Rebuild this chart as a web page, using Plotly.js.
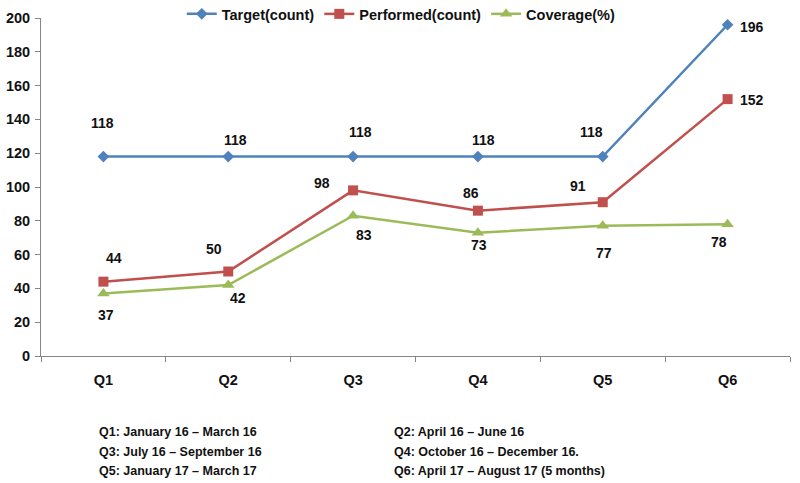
<!DOCTYPE html>
<html><head><meta charset="utf-8">
<script src="https://cdn.plot.ly/plotly-3.0.1.min.js"></script>
<style>html,body{margin:0;padding:0;background:#fff}#c{width:800px;height:483px}</style>
</head><body><div id="c"></div>
<script>
const categories = ["Q1","Q2","Q3","Q4","Q5","Q6"];
const target = [118,118,118,118,118,196];
const performed = [44,50,98,86,91,152];
const coverage = [37,42,83,73,77,78];
const seriesNames = ["Target(count)","Performed(count)","Coverage(%)"];
const notesLeft = ["Q1: January 16 – March 16","Q3: July 16 – September 16","Q5: January 17 – March 17"];
const notesRight = ["Q2: April 16 – June 16","Q4: October 16 – December 16.","Q6: April 17 – August 17 (5 months)"];

// label offsets in pixels (style only): [dx, dy] with dy positive = downward
const targetLabelOffsets = [[-1,-34],[7,-17],[7,-25],[6,-17],[-11,-25],[24,2]];
const performedLabelOffsets = [[11,-24],[-14,-23],[-31,-7],[-7,-18],[-25,-16],[24,1]];
const coverageLabelOffsets = [[3,22],[10,13],[11,19],[1,12],[1,27],[-9,18]];

const FONT = "Liberation Sans, Arial, sans-serif";
const colors = ["#4F81BD","#C0504D","#9BBB59"];
const symbols = ["diamond","square","triangle-up"];
const msize = [9,10,11];
const all = [target, performed, coverage];
const offs = [targetLabelOffsets, performedLabelOffsets, coverageLabelOffsets];

const traces = all.map((vals,i)=>({
  x: categories, y: vals, name: seriesNames[i], type:"scatter", mode:"lines+markers",
  line:{color:colors[i], width:2.5},
  marker:{symbol:symbols[i], size:msize[i], color:colors[i]}
}));

const annotations = [];
all.forEach((vals,i)=>{
  vals.forEach((v,j)=>{
    annotations.push({x:categories[j], y:v, text:String(v), showarrow:false,
      xanchor:'center', yanchor:'middle', xshift:offs[i][j][0], yshift:-offs[i][j][1],
      font:{family:FONT,size:14,color:"#111",weight:"bold"}});
  });
});
notesLeft.forEach((t,k)=>annotations.push({xref:'paper',yref:'paper',x:(97-41)/749,y:-(432-356+k*19.5)/338,
  text:t,showarrow:false,xanchor:'left',yanchor:'middle',font:{family:FONT,size:12.5,color:"#111",weight:"bold"}}));
notesRight.forEach((t,k)=>annotations.push({xref:'paper',yref:'paper',x:(392-41)/749,y:-(432-356+k*19.5)/338,
  text:t,showarrow:false,xanchor:'left',yanchor:'middle',font:{family:FONT,size:12.5,color:"#111",weight:"bold"}}));

const layout = {
  width:800, height:483,
  margin:{l:41,r:10,t:18,b:127,autoexpand:false},
  paper_bgcolor:"#fff", plot_bgcolor:"#fff",
  font:{family:FONT, size:13, color:"#111", weight:"bold"},
  showlegend:true,
  legend:{orientation:"h", x:0.481, xanchor:"center", y:1.012, yanchor:"middle",
    font:{family:FONT,size:14.5,color:"#111",weight:"bold"}, bgcolor:"rgba(0,0,0,0)", itemwidth:30},
  xaxis:{type:"category", tickson:"boundaries", showline:true, linecolor:"#868686", linewidth:1,
    ticks:"outside", ticklen:5, tickcolor:"#868686", showgrid:false, zeroline:false,
    tickfont:{family:FONT,size:14.5,color:"#111",weight:"bold"}, ticklabelstandoff:11, range:[-0.5,5.5]},
  yaxis:{range:[0,200], dtick:20, showline:true, linecolor:"#868686", linewidth:1,
    ticks:"outside", ticklen:5, tickcolor:"#868686", showgrid:false, zeroline:false,
    tickfont:{family:FONT,size:14.5,color:"#111",weight:"bold"}, ticklabelstandoff:2},
  annotations: annotations
};
Plotly.newPlot("c", traces, layout, {displayModeBar:false, staticPlot:true});
</script></body></html>
